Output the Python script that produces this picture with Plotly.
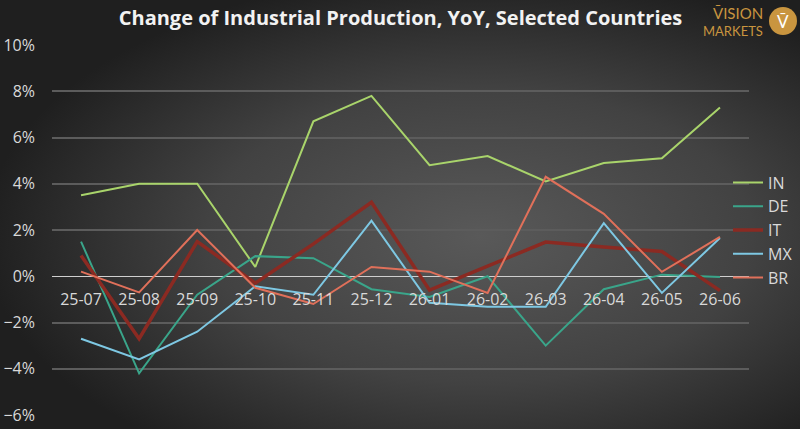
import base64
import plotly.graph_objects as go

# Industrial production, YoY change (%)
months = ['25-07', '25-08', '25-09', '25-10', '25-11', '25-12',
          '26-01', '26-02', '26-03', '26-04', '26-05', '26-06']
IN = [3.5, 4.0, 4.0, 0.4, 6.7, 7.8, 4.8, 5.2, 4.1, 4.9, 5.1, 7.3]
DE = [1.5, -4.2, -0.8, 0.87, 0.78, -0.56, -0.9, 0.0, -3.0, -0.56, 0.07, -0.03]
IT = [0.9, -2.7, 1.5, -0.3, 1.4, 3.2, -0.6, 0.45, 1.48, 1.26, 1.07, -0.62]
MX = [-2.7, -3.6, -2.4, -0.43, -0.8, 2.4, -1.15, -1.32, -1.32, 2.3, -0.72, 1.65]
BR = [0.2, -0.7, 2.0, -0.5, -1.2, 0.4, 0.2, -0.72, 4.3, 2.7, 0.19, 1.7]

W, H = 800, 429
ML, MR, MT, MB = 52, 51, 45, 14
PW, PH = W - ML - MR, H - MT - MB


def px(x):
    return (x - ML) / PW


def py(y):
    return (H - MB - y) / PH


series = [
    ('IN', IN, '#a9d46b', 2),
    ('DE', DE, '#3aa58a', 2),
    ('IT', IT, '#8b2a22', 3.5),
    ('MX', MX, '#7ec8e3', 2),
    ('BR', BR, '#e0705a', 2),
]

fig = go.Figure()
for name, vals, color, width in series:
    fig.add_trace(go.Scatter(x=months, y=vals, name=name, mode='lines',
                             line=dict(color=color, width=width)))

# radial grey background
svg = ('<svg xmlns="http://www.w3.org/2000/svg" width="800" height="429" '
       'viewBox="0 0 800 429" preserveAspectRatio="none">'
       '<defs><radialGradient id="g" cx="0.6" cy="0.55" r="0.62">'
       '<stop offset="0" stop-color="#595959"/>'
       '<stop offset="0.55" stop-color="#424242"/>'
       '<stop offset="1" stop-color="#1f1f1f"/>'
       '</radialGradient></defs>'
       '<rect width="800" height="429" fill="url(#g)"/></svg>')
bg = 'data:image/svg+xml;base64,' + base64.b64encode(svg.encode()).decode()

gold = '#c9953f'
fig.update_layout(
    width=W, height=H,
    margin=dict(l=ML, r=MR, t=MT, b=MB, autoexpand=False),
    paper_bgcolor='#3a3a3a',
    plot_bgcolor='rgba(0,0,0,0)',
    font=dict(family='Open Sans', color='#d9d9d9', size=15),
    title=dict(text='<b>Change of Industrial Production, YoY, Selected Countries</b>',
               x=0.5, xref='paper', xanchor='center', y=1 - 18 / H, yanchor='middle',
               font=dict(size=20, color='#f2f2f2', family='Open Sans')),
    images=[dict(source=bg, xref='paper', yref='paper', x=px(0), y=py(0),
                 sizex=W / PW, sizey=H / PH, sizing='stretch',
                 xanchor='left', yanchor='top', layer='below')],
    xaxis=dict(type='category', range=[-0.5, len(months) - 0.5],
               anchor='free', position=6 / 16,
               showgrid=False, showline=False, zeroline=False, ticks='',
               ticklabelstandoff=12, tickfont=dict(size=16, color='#d9d9d9')),
    yaxis=dict(range=[-6, 10], dtick=2, ticksuffix='%', showgrid=True,
               gridcolor='#5c5c5c', gridwidth=1.5, zeroline=True,
               zerolinecolor='#cfcfcf', zerolinewidth=1, ticklabelstandoff=16,
               tickfont=dict(size=16, color='#d9d9d9')),
    legend=dict(x=px(728), xanchor='left', y=py(230), yanchor='middle',
                bgcolor='rgba(0,0,0,0)', font=dict(size=16, color='#d9d9d9'),
                itemwidth=30, tracegroupgap=0),
    showlegend=True,
)

# logo
fig.add_annotation(text='V\u0304ISION', xref='paper', yref='paper', x=px(765), y=py(13),
                   xanchor='right', yanchor='middle', showarrow=False,
                   font=dict(size=15, color=gold, family='Lato'))
fig.add_annotation(text='MARKETS', xref='paper', yref='paper', x=px(765), y=py(31),
                   xanchor='right', yanchor='middle', showarrow=False,
                   font=dict(size=13, color=gold, family='Lato'))
fig.add_shape(type='circle', xref='paper', yref='paper', x0=px(769), x1=px(797),
              y0=py(7), y1=py(35), fillcolor=gold, line=dict(width=0), layer='above')
fig.add_annotation(text='V\u0304', xref='paper', yref='paper', x=px(783), y=py(21),
                   xanchor='center', yanchor='middle', showarrow=False,
                   font=dict(size=17, color='#ffffff', family='Lato'))

# drop the page's default body margin so the figure sits at the window corner
fig.write_html('out.html', config={'displayModeBar': False},
               post_script="document.body.style.margin='0';")
